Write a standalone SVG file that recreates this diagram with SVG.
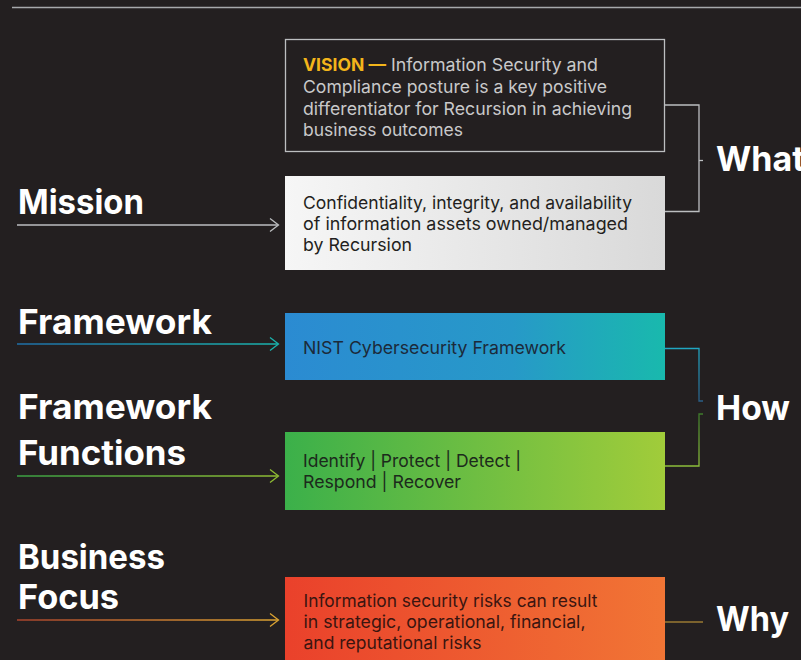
<svg xmlns="http://www.w3.org/2000/svg" width="801" height="660" viewBox="0 0 801 660">
<defs>
<linearGradient id="gMission" x1="0" y1="0" x2="1" y2="0"><stop offset="0" stop-color="#f6f6f6"/><stop offset="1" stop-color="#d9d9d9"/></linearGradient>
<linearGradient id="gFrame" x1="0" y1="0" x2="1" y2="0"><stop offset="0" stop-color="#2b8bd2"/><stop offset="0.6" stop-color="#2799c8"/><stop offset="1" stop-color="#19b9ad"/></linearGradient>
<linearGradient id="gFunc" x1="0" y1="0" x2="1" y2="0"><stop offset="0" stop-color="#3bb04a"/><stop offset="1" stop-color="#a1cc3a"/></linearGradient>
<linearGradient id="gBiz" x1="0" y1="0" x2="1" y2="0"><stop offset="0" stop-color="#ea412b"/><stop offset="1" stop-color="#f17535"/></linearGradient>
<linearGradient id="lFrame" gradientUnits="userSpaceOnUse" x1="17" y1="0" x2="279" y2="0"><stop offset="0" stop-color="#1f6fa8"/><stop offset="1" stop-color="#1ab3ad"/></linearGradient>
<linearGradient id="lFunc" gradientUnits="userSpaceOnUse" x1="17" y1="0" x2="279" y2="0"><stop offset="0" stop-color="#3aa043"/><stop offset="1" stop-color="#8fbb33"/></linearGradient>
<linearGradient id="lBiz" gradientUnits="userSpaceOnUse" x1="17" y1="0" x2="279" y2="0"><stop offset="0" stop-color="#a8432c"/><stop offset="1" stop-color="#dba332"/></linearGradient>
<linearGradient id="bHow1" gradientUnits="userSpaceOnUse" x1="0" y1="348" x2="0" y2="401"><stop offset="0" stop-color="#20a7c2"/><stop offset="1" stop-color="#2a5e86"/></linearGradient>
<linearGradient id="bHow2" gradientUnits="userSpaceOnUse" x1="0" y1="414" x2="0" y2="466"><stop offset="0" stop-color="#3e7a2b"/><stop offset="1" stop-color="#8cbd3a"/></linearGradient>
</defs>
<style>
.bg{fill:#231f20}
.lbl{font-family:Inter,"Noto Sans","Liberation Sans",sans-serif;font-weight:700;font-size:34px;fill:#ffffff}
.body{font-family:Inter,"Noto Sans","Liberation Sans",sans-serif;font-weight:400;font-size:17.5px}
.body.strong{font-weight:700;fill:#f3b51b}
.ln{fill:none;stroke-width:1.3}
.vis{fill:#c9c9ca}
</style>
<rect class="bg" x="0" y="0" width="801" height="660"/>
<line x1="12" y1="7.5" x2="801" y2="7.5" stroke="#a7a9ac" stroke-width="1.5"/>

<g id="connectors">
<line class="ln" x1="17" y1="225" x2="278" y2="225" stroke="#bcbec0"/>
<polyline class="ln" points="270,218.5 278.5,225 270,231.5" stroke="#bcbec0"/>
<line class="ln" x1="17" y1="344" x2="278" y2="344" stroke="url(#lFrame)"/>
<polyline class="ln" points="270,337.5 278.5,344 270,350.5" stroke="#1ab3ad"/>
<line class="ln" x1="17" y1="476" x2="278" y2="476" stroke="url(#lFunc)"/>
<polyline class="ln" points="270,469.5 278.5,476 270,482.5" stroke="#8fbb33"/>
<line class="ln" x1="17" y1="620" x2="278" y2="620" stroke="url(#lBiz)"/>
<polyline class="ln" points="270,613.5 278.5,620 270,626.5" stroke="#dba332"/>
<polyline class="ln" points="665,105 699,105 699,211.5 665,211.5" stroke="#bcbec0"/>
<line class="ln" x1="699" y1="160.5" x2="703" y2="160.5" stroke="#bcbec0"/>
<polyline class="ln" points="665,348.5 699,348.5 699,401 703,401" stroke="url(#bHow1)"/>
<polyline class="ln" points="703,414 699,414 699,466 665,466" stroke="url(#bHow2)"/>
<line class="ln" x1="665" y1="622" x2="703" y2="622" stroke="#9a7a32"/>
</g>

<g id="label-mission"><text class="lbl" x="18" y="214" textLength="126" lengthAdjust="spacingAndGlyphs">Mission</text></g>
<g id="label-framework"><text class="lbl" x="18" y="334" textLength="194" lengthAdjust="spacingAndGlyphs">Framework</text></g>
<g id="label-functions">
<text class="lbl" x="18" y="419" textLength="194" lengthAdjust="spacingAndGlyphs">Framework</text>
<text class="lbl" x="18" y="465" textLength="168" lengthAdjust="spacingAndGlyphs">Functions</text>
</g>
<g id="label-business">
<text class="lbl" x="18" y="569" textLength="147" lengthAdjust="spacingAndGlyphs">Business</text>
<text class="lbl" x="18" y="609" textLength="101" lengthAdjust="spacingAndGlyphs">Focus</text>
</g>
<g id="label-what"><text class="lbl" x="716" y="171">What</text></g>
<g id="label-how"><text class="lbl" x="716" y="420" textLength="74" lengthAdjust="spacingAndGlyphs">How</text></g>
<g id="label-why"><text class="lbl" x="716" y="631" textLength="73" lengthAdjust="spacingAndGlyphs">Why</text></g>

<g id="vision">
<rect x="285.5" y="39.5" width="379" height="112" fill="none" stroke="#bcbec0" stroke-width="1.3"/>
<text class="body strong" x="303" y="71" textLength="83" lengthAdjust="spacingAndGlyphs">VISION —</text>
<text class="body vis" x="391" y="71" textLength="207" lengthAdjust="spacingAndGlyphs">Information Security and</text>
<text class="body vis" x="303" y="93" textLength="304" lengthAdjust="spacingAndGlyphs">Compliance posture is a key positive</text>
<text class="body vis" x="303" y="114.5" textLength="329" lengthAdjust="spacingAndGlyphs">differentiator for Recursion in achieving</text>
<text class="body vis" x="303" y="135.5" textLength="160" lengthAdjust="spacingAndGlyphs">business outcomes</text>
</g>

<g id="mission">
<rect x="285" y="176" width="380" height="94" fill="url(#gMission)"/>
<text class="body" x="303" y="209" fill="#231f20" textLength="329" lengthAdjust="spacingAndGlyphs">Confidentiality, integrity, and availability</text>
<text class="body" x="303" y="230" fill="#231f20" textLength="325" lengthAdjust="spacingAndGlyphs">of information assets owned/managed</text>
<text class="body" x="303" y="251" fill="#231f20" textLength="109" lengthAdjust="spacingAndGlyphs">by Recursion</text>
</g>

<g id="framework">
<rect x="285" y="313" width="380" height="67" fill="url(#gFrame)"/>
<text class="body" x="303" y="354" fill="#1c2a3a" textLength="263" lengthAdjust="spacingAndGlyphs">NIST Cybersecurity Framework</text>
</g>

<g id="functions">
<rect x="285" y="432" width="380" height="78" fill="url(#gFunc)"/>
<text class="body" x="303" y="466.5" fill="#1c2a1c" textLength="218" lengthAdjust="spacingAndGlyphs">Identify | Protect | Detect |</text>
<text class="body" x="303" y="488" fill="#1c2a1c" textLength="158" lengthAdjust="spacingAndGlyphs">Respond | Recover</text>
</g>

<g id="business">
<rect x="285" y="577" width="380" height="83" fill="url(#gBiz)"/>
<text class="body" x="303.5" y="607" fill="#3a1510" textLength="294" lengthAdjust="spacingAndGlyphs">Information security risks can result</text>
<text class="body" x="303.5" y="628" fill="#3a1510" textLength="282" lengthAdjust="spacingAndGlyphs">in strategic, operational, financial,</text>
<text class="body" x="303.5" y="649" fill="#3a1510" textLength="178" lengthAdjust="spacingAndGlyphs">and reputational risks</text>
</g>
</svg>
